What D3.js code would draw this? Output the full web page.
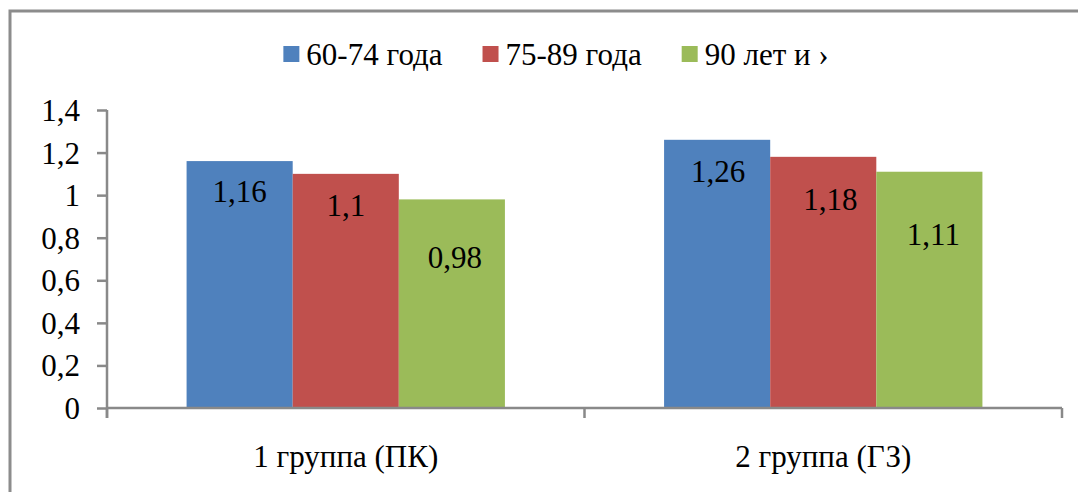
<!DOCTYPE html>
<html>
<head>
<meta charset="utf-8">
<script src="https://cdn.jsdelivr.net/npm/d3@7"></script>
<style>
  html, body { margin: 0; padding: 0; background: #fff; }
  svg { display: block; }
  svg text { font-family: "Liberation Serif", "Times New Roman", Tinos, serif !important; }
</style>
</head>
<body>
<svg id="chart" width="1078" height="492"></svg>
<script>
// Age-group ratios for the two patient groups
const categories = ["1 группа (ПК)", "2 группа (ГЗ)"];
const seriesNames = ["60-74 года", "75-89 года", "90 лет и ›"];
const values6074 = [1.16, 1.26];
const values7589 = [1.1, 1.18];
const values90 = [0.98, 1.11];
const yTicks = [0, 0.2, 0.4, 0.6, 0.8, 1, 1.2, 1.4];

const seriesValues = [values6074, values7589, values90];
const colors = ["#4F81BD", "#C0504D", "#9BBB59"];

// Hand-placed value labels: baseline drop below the bar top, horizontal nudge
const labelDrop = [[41, 42, 69], [42, 53, 73]];
const labelNudge = [[0, 0, 3], [1, 7, 4]];

const fmt = v => String(v).replace(".", ",");

const serifFamily = "Liberation Serif, Times New Roman, Tinos, serif";
const fontSize = 31;
const axisColor = "#898989";

const svg = d3.select("#chart");

// outer frame (runs past the right and bottom edges)
svg.append("rect")
  .attr("x", 10).attr("y", 11)
  .attr("width", 1100).attr("height", 500)
  .attr("fill", "#fff")
  .attr("stroke", "#8c8c8c").attr("stroke-width", 3);

const plot = { left: 107, right: 1062, top: 110, bottom: 408 };

const y = d3.scaleLinear().domain([0, 1.4]).range([plot.bottom, plot.top]);
const x0 = d3.scaleBand().domain(categories).range([plot.left, plot.right]).padding(0);
const gap = x0.bandwidth() / 3;
const x1 = d3.scaleBand().domain(d3.range(seriesNames.length))
  .range([gap / 2, x0.bandwidth() - gap / 2]).padding(0);

function styleText(sel) {
  return sel.attr("font-family", serifFamily)
    .attr("font-size", fontSize)
    .attr("fill", "#000");
}

// bars and their value labels
categories.forEach((cat, ci) => {
  const g = svg.append("g").attr("transform", `translate(${x0(cat)},0)`);
  const rows = seriesValues.map((vals, si) => ({ si, v: vals[ci] }));
  g.selectAll("rect")
    .data(rows)
    .join("rect")
    .attr("x", d => x1(d.si))
    .attr("y", d => y(d.v))
    .attr("width", x1.bandwidth())
    .attr("height", d => y(0) - y(d.v))
    .attr("fill", d => colors[d.si]);

  g.selectAll("text.val")
    .data(rows)
    .join("text")
    .attr("class", "val")
    .attr("x", d => x1(d.si) + x1.bandwidth() / 2 + labelNudge[ci][d.si])
    .attr("y", d => y(d.v) + labelDrop[ci][d.si])
    .attr("text-anchor", "middle")
    .call(styleText)
    .text(d => fmt(d.v));
});

// y axis
const yAxis = d3.axisLeft(y).tickValues(yTicks).tickFormat(fmt).tickSize(10).tickPadding(17);
const yg = svg.append("g").attr("transform", `translate(${plot.left},0)`).call(yAxis);
yg.attr("font-family", null).attr("font-size", null);
yg.select(".domain").remove();
yg.append("line")
  .attr("x1", 0).attr("x2", 0)
  .attr("y1", plot.top).attr("y2", plot.bottom + 10)
  .attr("stroke", axisColor).attr("stroke-width", 2.5);
yg.selectAll(".tick line").attr("stroke", axisColor).attr("stroke-width", 2.5);
yg.selectAll(".tick text")
  .attr("dy", "0.34em")
  .call(styleText);

// category axis: baseline, boundary ticks, labels
const xg = svg.append("g");
xg.append("line")
  .attr("x1", plot.left).attr("x2", plot.right)
  .attr("y1", plot.bottom).attr("y2", plot.bottom)
  .attr("stroke", axisColor).attr("stroke-width", 2.5);
const bounds = categories.map(c => x0(c)).concat([x0(categories[categories.length - 1]) + x0.bandwidth()]);
xg.selectAll("line.tk").data(bounds).join("line")
  .attr("class", "tk")
  .attr("x1", d => d).attr("x2", d => d)
  .attr("y1", plot.bottom).attr("y2", plot.bottom + 10)
  .attr("stroke", axisColor).attr("stroke-width", 2.5);
xg.selectAll("text").data(categories).join("text")
  .attr("x", d => x0(d) + x0.bandwidth() / 2)
  .attr("y", 467)
  .attr("text-anchor", "middle")
  .call(styleText)
  .text(d => d);

// legend
const legend = svg.append("g");
const items = legend.selectAll("g").data(seriesNames).join("g");
items.append("rect")
  .attr("width", 16).attr("height", 16)
  .attr("y", 46)
  .attr("fill", (d, i) => colors[i]);
items.append("text")
  .attr("x", 23).attr("y", 65)
  .call(styleText)
  .text(d => d);
const widths = [];
items.each(function () {
  widths.push(23 + this.querySelector("text").getComputedTextLength());
});
const itemGap = 40;
const total = d3.sum(widths) + itemGap * (widths.length - 1);
let startX = 556 - total / 2;
items.attr("transform", (d, i) => {
  const tx = startX;
  startX += widths[i] + itemGap;
  return `translate(${tx},0)`;
});
</script>
</body>
</html>
